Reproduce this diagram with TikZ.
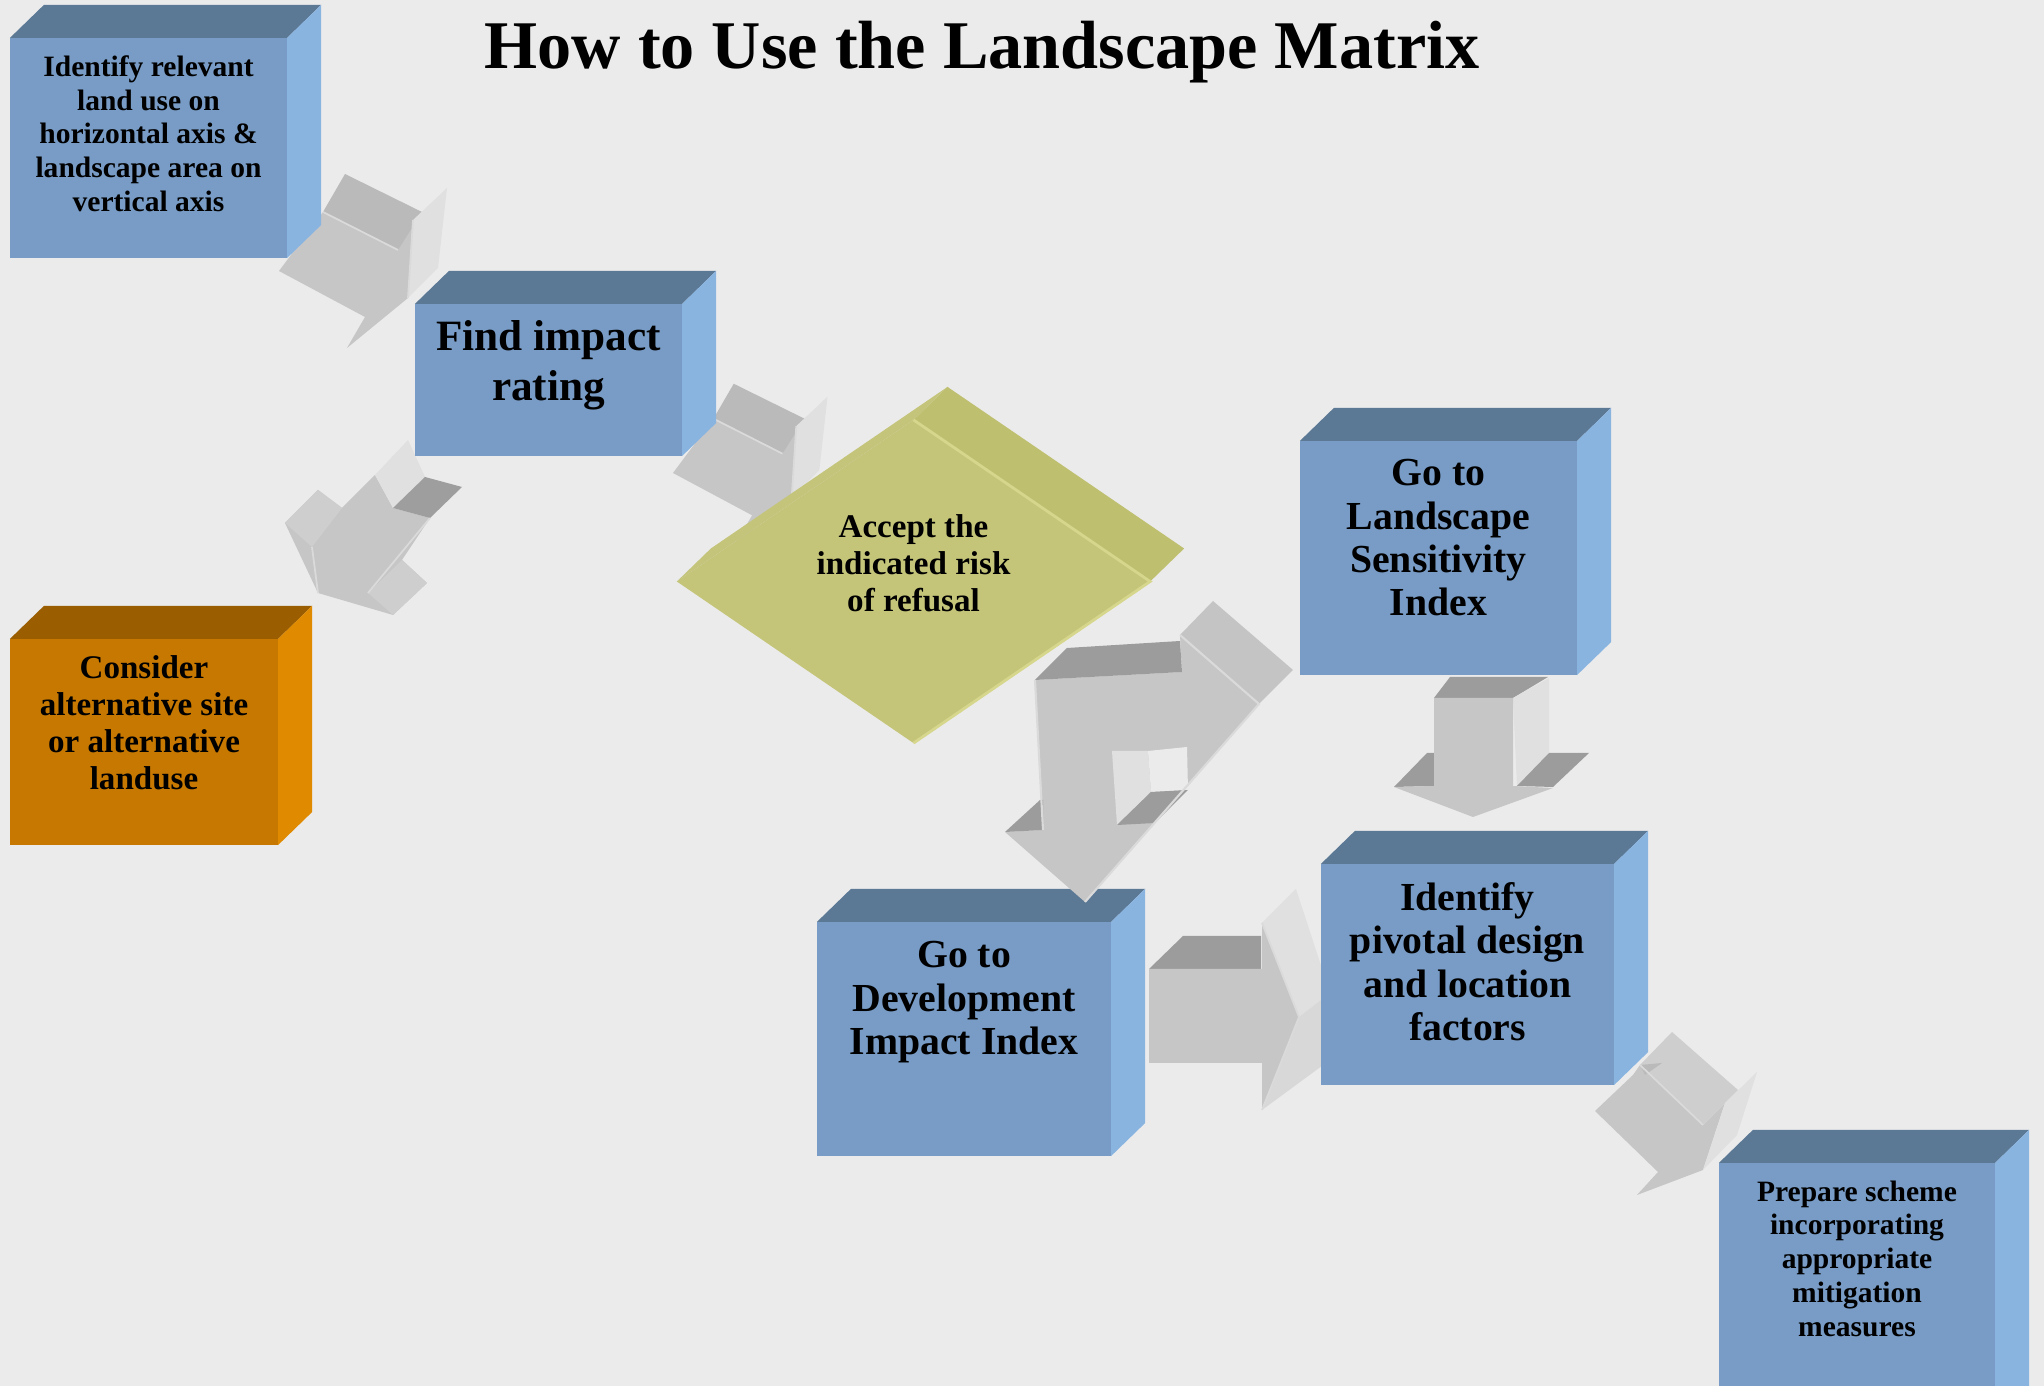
\documentclass[tikz,border=0pt]{standalone}
\usepackage{fontspec}
\setmainfont{Liberation Serif}
\usetikzlibrary{positioning,shapes.geometric,calc}

\definecolor{paper}{HTML}{EBEBEB}
\definecolor{bluefront}{HTML}{789CC6}
\definecolor{bluetop}{HTML}{5B7895}
\definecolor{blueside}{HTML}{8AB4E0}
\definecolor{orangefront}{HTML}{C77800}
\definecolor{orangetop}{HTML}{9A5E00}
\definecolor{orangeside}{HTML}{E08A00}
\definecolor{olivefront}{HTML}{C5C57A}
\definecolor{olivetop}{HTML}{BFBF70}
\definecolor{oliveedge}{HTML}{D6D68C}
\definecolor{arrowfront}{HTML}{C6C6C6}
\definecolor{arrowmid}{HTML}{BABABA}
\definecolor{arrowdark}{HTML}{9C9C9C}
\definecolor{arrowwing}{HTML}{CECECE}
\definecolor{arrowlight}{HTML}{E0E0E0}
\definecolor{arrowedge}{HTML}{DADADA}

\tikzset{
  bluebox/.style={fill=bluefront, inner sep=0pt, outer sep=0pt},
  orangebox/.style={fill=orangefront, inner sep=0pt, outer sep=0pt},
  boxtext/.style={inner sep=0pt, align=center, text=black},
  txttitle/.style={font=\bfseries\fontsize{19.4}{23}\selectfont},
  txtsmall/.style={font=\bfseries\fontsize{8.4}{9.6}\selectfont},
  txtmid/.style={font=\bfseries\fontsize{9.4}{10.5}\selectfont},
  txtlarge/.style={font=\bfseries\fontsize{11.3}{12.3}\selectfont},
  txthuge/.style={font=\bfseries\fontsize{12.3}{14.1}\selectfont},
  slantarrow/.pic={
    \fill[arrowfront] (0,0) -- (44,-59) -- (119,-21) -- (134,-51) -- (129,27)
      -- (68,77) -- (86,46) -- cycle;
    \fill[arrowmid] (44,-59) -- (66,-97) -- (143,-59) -- (119,-21) -- cycle;
    \fill[arrowlight] (134,-51) -- (168,-83) -- (159,-3) -- (129,27) -- cycle;
    \draw[arrowedge, line width=0.5pt] (44,-59) -- (119,-21) (134,-51) -- (129,27);
  }
}

\begin{document}
\begin{tikzpicture}[x=0.01cm, y=-0.01cm]
  \clip (0,0) rectangle (2044,1386);
  \fill[paper] (0,0) rectangle (2044,1386);

  % title
  \node[txttitle, anchor=base] (title) at (982,69) {How to Use the Landscape Matrix};

  % block arrows behind the boxes
  \pic (toimpact) at (279,271) {slantarrow};
  \pic[scale=0.92] (toaccept) at (673,473) {slantarrow};

  % impact -> consider
  \fill[arrowfront] (285,523) -- (318,490) -- (342,508) -- (375,475) -- (393,508)
    -- (430,518) -- (402,560) -- (427,583) -- (393,615) -- (318,593) -- cycle;
  \fill[arrowwing] (285,523) -- (318,490) -- (342,508) -- (312,547) -- cycle;
  \fill[arrowwing] (368,593) -- (402,560) -- (427,583) -- (393,615) -- cycle;
  \fill[arrowlight] (375,475) -- (408,440) -- (425,477) -- (393,508) -- cycle;
  \fill[arrowmid!85!black] (393,508) -- (425,477) -- (462,487) -- (430,518) -- cycle;
  \draw[arrowedge, line width=0.5pt] (312,547) -- (318,593) (368,593) -- (430,518);

  % sensitivity -> pivotal
  \fill[arrowdark] (1434,698) -- (1450,677) -- (1548,677) -- (1513,698) -- cycle;
  \fill[arrowlight] (1513,698) -- (1549,678) -- (1549,753) -- (1517,786) -- cycle;
  \fill[arrowdark] (1394,787) -- (1427,753) -- (1434,753) -- (1434,786) -- cycle;
  \fill[arrowdark] (1517,786) -- (1549,753) -- (1589,753) -- (1553,787) -- cycle;
  \fill[arrowfront] (1434,698) -- (1513,698) -- (1513,786) -- (1553,788) -- (1473,817)
    -- (1394,787) -- (1434,786) -- cycle;

  % development -> pivotal
  \fill[arrowdark] (1149,969) -- (1183,936) -- (1261,936) -- (1261,969) -- cycle;
  \fill[arrowlight] (1262,923) -- (1296,889) -- (1330,993) -- (1299,1017) -- cycle;
  \fill[arrowwing!80!white] (1299,1017) -- (1330,993) -- (1330,1060) -- (1262,1110) -- cycle;
  \fill[arrowfront] (1149,969) -- (1262,969) -- (1262,923) -- (1299,1017) -- (1262,1110)
    -- (1262,1063) -- (1149,1063) -- cycle;
  \draw[arrowedge, line width=0.5pt] (1262,923) -- (1299,1017) -- (1262,1110);

  % pivotal -> prepare
  \fill[arrowfront] (1595,1111) -- (1633,1075) -- (1640,1065) -- (1703,1125) -- (1725,1103)
    -- (1703,1170) -- (1637,1195) -- (1658,1172) -- cycle;
  \fill[arrowwing] (1640,1065) -- (1672,1032) -- (1738,1090) -- (1725,1103) -- (1703,1125) -- cycle;
  \fill[arrowlight] (1725,1103) -- (1757,1072) -- (1737,1135) -- (1703,1170) -- cycle;
  \fill[arrowmid] (1640,1065) -- (1662,1063) -- (1645,1075) -- cycle;
  \draw[arrowedge, line width=0.5pt] (1640,1065) -- (1703,1125);

  % boxes
  \node[bluebox, minimum width=2.77cm, minimum height=2.2cm] (idbox) at (148.5,148) {};
  \node[bluebox, minimum width=2.67cm, minimum height=1.52cm] (impactbox) at (548.5,380) {};
  \node[orangebox, minimum width=2.68cm, minimum height=2.06cm] (considerbox) at (144,742) {};
  \node[bluebox, minimum width=2.77cm, minimum height=2.34cm] (lsibox) at (1438.5,558) {};
  \node[bluebox, minimum width=2.94cm, minimum height=2.34cm] (diibox) at (964,1039) {};
  \node[bluebox, minimum width=2.93cm, minimum height=2.21cm] (pivotbox) at (1467.5,974.5) {};
  \node[bluebox, minimum width=2.76cm, minimum height=2.57cm] (prepbox) at (1857,1291.5) {};

  \foreach \b/\t/\s in {idbox/bluetop/blueside, impactbox/bluetop/blueside,
      considerbox/orangetop/orangeside, lsibox/bluetop/blueside, diibox/bluetop/blueside,
      pivotbox/bluetop/blueside, prepbox/bluetop/blueside} {
    \fill[fill=\t] (\b.north west) -- ++(34,-33) -- ($(\b.north east)+(34,-33)$)
      -- (\b.north east) -- cycle;
    \fill[fill=\s] (\b.north east) -- ++(34,-33) -- ($(\b.south east)+(34,-33)$)
      -- (\b.south east) -- cycle;
  }

  % diamond
  \node[diamond, fill=olivefront, inner sep=0pt, outer sep=0pt,
    minimum width=4.73cm, minimum height=3.23cm] (acceptbox) at (913.5,581.5) {};
  \fill[olivetop] (acceptbox.north) -- ++(34,-33) -- ($(acceptbox.east)+(34,-33)$)
    -- (acceptbox.east) -- cycle;
  \fill[olivetop!92!white] (acceptbox.west) -- ++(34,-33) -- ($(acceptbox.north)+(34,-33)$)
    -- (acceptbox.north) -- cycle;
  \draw[oliveedge, line width=0.8pt] (acceptbox.north) -- (acceptbox.east) -- (acceptbox.south);

  % accept -> sensitivity / development
  \fill[arrowfront] (1035,680) -- (1182,672) -- (1180,635) -- (1259,704) -- (1085,902)
    -- (1005,832) -- (1043,830) -- cycle;
  \fill[arrowdark] (1035,680) -- (1067,648) -- (1180,641) -- (1182,672) -- cycle;
  \fill[arrowwing!95!black] (1180,635) -- (1213,601) -- (1293,670) -- (1259,704) -- cycle;
  \fill[arrowdark] (1005,832) -- (1040,800) -- (1043,800) -- (1043,830) -- cycle;
  \fill[arrowlight] (1112,751) -- (1148,751) -- (1151,792) -- (1117,825) -- cycle;
  \fill[paper] (1148,751) -- (1187,747) -- (1188,790) -- (1151,792) -- cycle;
  \fill[arrowdark] (1117,825) -- (1151,792) -- (1188,790) -- (1155,823) -- cycle;
  \draw[arrowedge, line width=0.6pt] (1180,635) -- (1259,704) -- (1085,902)
    (1035,680) -- (1043,830);

  % texts
  \node[boxtext, txtsmall, below=1.7mm of idbox.north] (identify)
    {Identify relevant\\land use on\\horizontal axis \&\\landscape area on\\vertical axis};
  \node[boxtext, txthuge, below=1.6mm of impactbox.north] (impact) {Find impact\\rating};
  \node[boxtext, txtmid, below=1.6mm of considerbox.north] (consider)
    {Consider\\alternative site\\or alternative\\landuse};
  \node[boxtext, txtmid] (accept) at ([yshift=0.185cm]acceptbox.center)
    {Accept the\\indicated risk\\of refusal};
  \node[boxtext, txtlarge, below=1.8mm of lsibox.north] (lsi)
    {Go to\\Landscape\\Sensitivity\\Index};
  \node[boxtext, txtlarge, below=1.9mm of diibox.north] (dii)
    {Go to\\Development\\Impact Index};
  \node[boxtext, txtlarge, below=1.8mm of pivotbox.north] (pivot)
    {Identify\\pivotal design\\and location\\factors};
  \node[boxtext, txtsmall, below=1.7mm of prepbox.north] (prepare)
    {Prepare scheme\\incorporating\\appropriate\\mitigation\\measures};
\end{tikzpicture}
\end{document}
